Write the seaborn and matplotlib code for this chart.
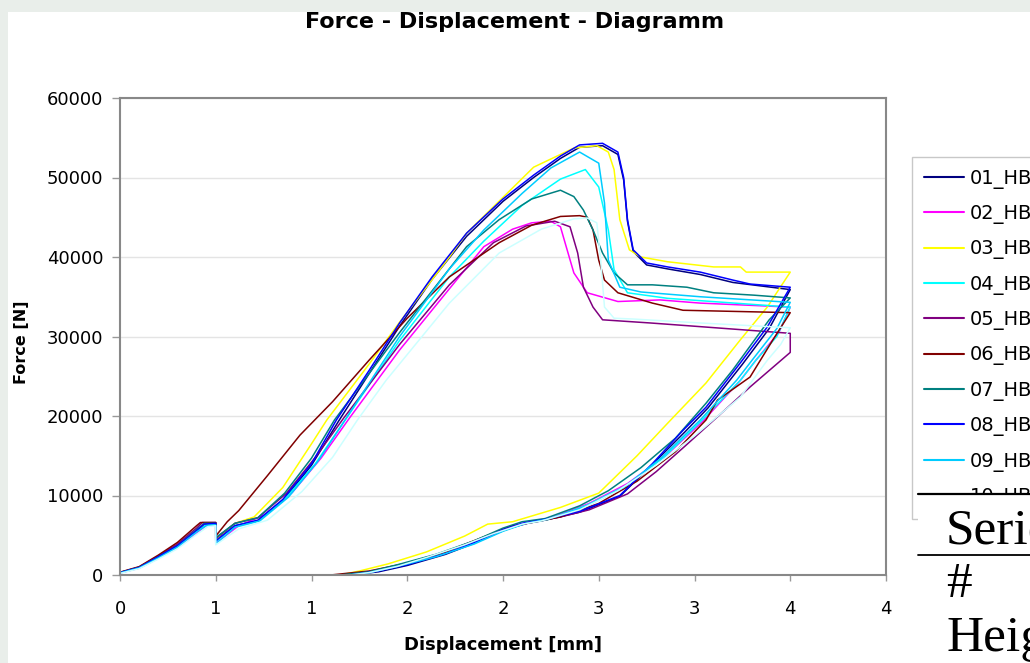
import pandas as pd
import matplotlib
matplotlib.use("Agg")
import matplotlib.pyplot as plt
from matplotlib.lines import Line2D
from matplotlib.patches import Rectangle
import seaborn as sns

sns.set_theme(style="white")
plt.rcParams["font.family"] = ["DejaVu Sans"]
plt.rcParams["text.color"] = "black"

# series names + excel style colours
labels = ["01_HB", "02_HB", "03_HB", "04_HB", "05_HB",
          "06_HB", "07_HB", "08_HB", "09_HB", "10_HB"]
colors = ["#000080", "#FF00FF", "#FFFF00", "#00FFFF", "#800080",
          "#800000", "#008080", "#0000FF", "#00CCFF", "#CCFFFF"]

# displacement [mm] / force [N] (load, then unload)
d01 = [0, 0.1, 0.2, 0.3, 0.4, 0.44, 0.5, 0.5, 0.6, 0.72, 0.85, 1.0, 1.14, 1.3, 1.46, 1.63, 1.81, 2.0, 2.16, 2.3,
       2.4, 2.52, 2.6, 2.63, 2.65, 2.68, 2.75, 2.86, 3.03, 3.2, 3.5,
       3.39, 3.25, 3.07, 2.95, 2.78, 2.61, 2.4, 2.2, 2.1, 2.0, 1.85, 1.7, 1.5, 1.35, 1.2, 0.0]
f01 = [300, 950, 2300, 3700, 5600, 6400, 6500, 4400, 6200, 6800, 9300, 13800, 19300, 25300, 31300, 37200, 42600, 47000, 50000, 52400,
       53800, 54000, 52900, 49700, 44500, 40700, 39000, 38500, 37800, 36800, 35900,
       31000, 26500, 21000, 18000, 13900, 9900, 7900, 6800, 6400, 5600, 4000, 2600, 1200, 400, 0, 0]

d02 = [0, 0.1, 0.2, 0.3, 0.4, 0.45, 0.5, 0.5, 0.62, 0.75, 0.9, 1.05, 1.2, 1.46, 1.72, 1.9, 2.05, 2.15, 2.25, 2.3,
       2.33, 2.37, 2.44, 2.6, 2.82, 3.03, 3.5,
       3.44, 3.32, 3.24, 3.05, 2.85, 2.65, 2.45, 2.25, 2.12, 2.0, 1.85, 1.65, 1.45, 1.3, 1.2, 0.0]
f02 = [250, 850, 2100, 3500, 5300, 6200, 6300, 4000, 6200, 7500, 10400, 14700, 19800, 28300, 36000, 41300, 43500, 44300, 44500, 43800,
       41300, 38000, 35500, 34400, 34600, 34200, 33700,
       30500, 27000, 24500, 19500, 15000, 11500, 9000, 7200, 6600, 5700, 4200, 2500, 1200, 400, 0, 0]

d03 = [0, 0.1, 0.2, 0.3, 0.4, 0.44, 0.5, 0.5, 0.6, 0.7, 0.85, 1.0, 1.08, 1.3, 1.46, 1.72, 1.81, 2.0, 2.16, 2.37,
       2.49, 2.55, 2.58, 2.61, 2.66, 2.72, 2.86, 3.1, 3.24, 3.27, 3.5,
       3.38, 3.24, 3.06, 2.86, 2.7, 2.5, 2.3, 2.05, 1.92, 1.8, 1.6, 1.4, 1.25, 1.15, 0.4]
f03 = [300, 950, 2300, 3700, 5600, 6400, 6500, 4500, 6500, 7300, 11000, 16500, 19500, 26500, 31800, 40000, 43000, 47500, 51300, 53700,
       54000, 53200, 51000, 44700, 40900, 40000, 39400, 38750, 38750, 38100, 38100,
       33700, 29600, 24150, 19100, 15000, 10300, 8500, 6700, 6400, 4900, 2900, 1400, 500, 0, 0]

d04 = [0, 0.1, 0.2, 0.3, 0.4, 0.45, 0.5, 0.5, 0.6, 0.72, 0.87, 1.02, 1.17, 1.46, 1.72, 1.9, 2.1, 2.3, 2.43, 2.5,
       2.55, 2.58, 2.65, 2.86, 3.5,
       3.43, 3.32, 3.24, 3.04, 2.84, 2.64, 2.44, 2.24, 2.12, 2.0, 1.85, 1.65, 1.45, 1.3, 1.2, 0.4]
f04 = [280, 900, 2200, 3600, 5500, 6300, 6400, 4200, 6200, 6800, 9800, 14000, 19300, 29500, 37500, 42000, 46500, 49800, 51000, 48800,
       43400, 38400, 35500, 34800, 33700,
       30000, 27000, 24500, 19500, 14800, 11200, 8800, 7000, 6500, 5600, 4000, 2400, 1100, 300, 0, 0]

d05 = [0, 0.1, 0.2, 0.3, 0.4, 0.43, 0.5, 0.5, 0.6, 0.72, 0.87, 1.02, 1.17, 1.46, 1.72, 1.95, 2.12, 2.27, 2.35, 2.39,
       2.42, 2.47, 2.52, 2.77, 2.94, 3.5, 3.5,
       3.29, 3.12, 2.95, 2.8, 2.65, 2.45, 2.3, 2.16, 2.05, 1.9, 1.7, 1.5, 1.35, 1.22, 0.4]
f05 = [320, 1000, 2400, 3900, 5900, 6600, 6600, 4600, 6500, 7200, 10300, 14800, 19800, 29000, 36500, 41800, 43900, 44500, 43800, 40500,
       36200, 33700, 32100, 31700, 31400, 30400, 28000,
       23650, 19900, 16200, 13000, 10200, 8200, 7300, 6700, 6000, 4700, 2900, 1500, 600, 0, 0]

d06 = [0, 0.1, 0.2, 0.3, 0.4, 0.42, 0.5, 0.5, 0.56, 0.62, 0.77, 0.94, 1.11, 1.3, 1.5, 1.72, 1.98, 2.15, 2.3, 2.4,
       2.44, 2.47, 2.5, 2.53, 2.6, 2.78, 2.94, 3.5,
       3.41, 3.29, 3.12, 3.06, 2.9, 2.7, 2.5, 2.3, 2.15, 2.05, 1.9, 1.7, 1.5, 1.3, 1.1, 0.4]
f06 = [350, 1050, 2500, 4100, 6200, 6600, 6600, 4900, 6700, 8100, 12500, 17600, 21800, 27000, 32300, 37500, 41800, 44000, 45100, 45200,
       45000, 43400, 39600, 37100, 35500, 34200, 33300, 33000,
       29600, 24900, 22000, 19500, 15500, 11800, 9000, 7300, 6600, 6200, 4800, 2900, 1500, 500, 0, 0]

d07 = [0, 0.1, 0.2, 0.3, 0.4, 0.44, 0.5, 0.5, 0.6, 0.72, 0.86, 1.0, 1.12, 1.46, 1.81, 1.98, 2.15, 2.3, 2.37, 2.42,
       2.47, 2.52, 2.58, 2.65, 2.78, 2.96, 3.1, 3.31, 3.5,
       3.39, 3.2, 3.06, 2.9, 2.72, 2.55, 2.4, 2.22, 2.1, 2.0, 1.85, 1.65, 1.45, 1.3, 1.15, 0.36]
f07 = [300, 950, 2300, 3700, 5700, 6500, 6500, 4700, 6500, 7200, 10300, 14700, 19500, 30500, 41300, 44700, 47300, 48400, 47600, 45900,
       43400, 40500, 38000, 36500, 36500, 36200, 35500, 35200, 34850,
       32100, 25800, 21600, 17200, 13500, 10600, 8700, 7100, 6700, 5900, 4300, 2600, 1300, 400, 0, 0]

d08 = [0, 0.1, 0.2, 0.3, 0.4, 0.44, 0.5, 0.5, 0.6, 0.72, 0.85, 1.0, 1.13, 1.3, 1.46, 1.63, 1.81, 2.0, 2.16, 2.3,
       2.4, 2.52, 2.6, 2.63, 2.65, 2.68, 2.75, 2.86, 3.03, 3.2, 3.29, 3.5,
       3.38, 3.24, 3.06, 2.94, 2.78, 2.61, 2.4, 2.2, 2.1, 2.0, 1.85, 1.7, 1.5, 1.35, 1.2, 0.9]
f08 = [300, 950, 2300, 3700, 5600, 6400, 6500, 4300, 6200, 6900, 9500, 14000, 19500, 25700, 31700, 37500, 43000, 47300, 50300, 52700,
       54100, 54300, 53200, 50000, 44700, 40900, 39250, 38750, 38100, 37100, 36600, 36200,
       31200, 26700, 21100, 18200, 14000, 10000, 8000, 6900, 6500, 5700, 4100, 2700, 1300, 500, 0, 0]

d09 = [0, 0.1, 0.2, 0.3, 0.4, 0.45, 0.5, 0.5, 0.6, 0.73, 0.88, 1.03, 1.17, 1.46, 1.72, 1.9, 2.1, 2.25, 2.4, 2.5,
       2.53, 2.55, 2.61, 2.72, 3.03, 3.5,
       3.43, 3.3, 3.22, 3.03, 2.83, 2.63, 2.43, 2.23, 2.12, 2.0, 1.85, 1.65, 1.45, 1.3, 1.2, 0.8]
f09 = [260, 880, 2150, 3500, 5400, 6200, 6300, 3900, 6000, 6800, 9800, 14200, 19300, 30000, 38500, 43400, 48000, 51200, 53200, 51800,
       46800, 39600, 36200, 35600, 35000, 34300,
       31000, 27000, 24500, 19500, 14800, 11000, 8600, 7000, 6500, 5500, 3900, 2300, 1100, 300, 0, 0]

d10 = [0, 0.1, 0.2, 0.3, 0.4, 0.46, 0.5, 0.5, 0.62, 0.77, 0.95, 1.11, 1.24, 1.39, 1.72, 1.98, 2.2, 2.37, 2.44, 2.49,
       2.51, 2.53, 2.58, 2.68, 3.03, 3.5,
       3.45, 3.38, 3.24, 3.0, 2.8, 2.6, 2.4, 2.2, 2.1, 1.95, 1.8, 1.6, 1.45, 1.3, 1.2, 0.97]
f10 = [200, 800, 2000, 3300, 5100, 6100, 6200, 3800, 5800, 6900, 10500, 14800, 19500, 24500, 34200, 40500, 43500, 44800, 44900, 44300,
       39600, 33700, 32300, 32200, 31700, 31100,
       29000, 27000, 22400, 17500, 13800, 10600, 8200, 6800, 6400, 5200, 3800, 2200, 1100, 300, 0, 0]

x_ticks = [0, 0.5, 1.0, 1.5, 2.0, 2.5, 3.0, 3.5, 4.0]
x_tick_labels = ["0", "1", "1", "2", "2", "3", "3", "4", "4"]
y_ticks = [0, 10000, 20000, 30000, 40000, 50000, 60000]
y_tick_labels = ["0", "10000", "20000", "30000", "40000", "50000", "60000"]

# long form table for seaborn
disp = [d01, d02, d03, d04, d05, d06, d07, d08, d09, d10]
force = [f01, f02, f03, f04, f05, f06, f07, f08, f09, f10]
df = pd.concat([pd.DataFrame({"Displacement": d, "Force": f, "Series": name})
                for d, f, name in zip(disp, force, labels)], ignore_index=True)

W, H = 1030, 663
fig = plt.figure(figsize=(W / 100, H / 100), dpi=100, facecolor="#e9eeea")
# white page area (grey strip left and top)
fig.add_artist(Rectangle((8 / W, 0), 1, 1 - 12 / H, transform=fig.transFigure,
                         facecolor="white", edgecolor="none", zorder=-1))

ax = fig.add_axes([120 / W, 88 / H, 766 / W, 477 / H])
ax.set_facecolor("white")

sns.lineplot(data=df, x="Displacement", y="Force", hue="Series", hue_order=labels,
             palette=dict(zip(labels, colors)), estimator=None, sort=False,
             linewidth=1.1, legend=False, ax=ax)

ax.set_xlim(0, 4)
ax.set_ylim(0, 60000)
ax.set_xticks(x_ticks)
ax.set_xticklabels(x_tick_labels)
ax.set_yticks(y_ticks)
ax.set_yticklabels(y_tick_labels)
ax.set_xlabel("")
ax.set_ylabel("")
ax.yaxis.grid(True, color="#e4e4e4", linewidth=1)
ax.xaxis.grid(False)
ax.set_axisbelow(True)
for sp in ax.spines.values():
    sp.set_color("#888888")
    sp.set_linewidth(1.5)
ax.tick_params(axis="x", direction="out", length=4, width=1, color="#999999",
               labelsize=13, pad=14, labelcolor="black", bottom=True)
ax.tick_params(axis="y", direction="out", length=6, width=1, color="#999999",
               labelsize=13, pad=6, labelcolor="black", left=True)

fig.text(515 / W, 1 - 22 / H, "Force - Displacement - Diagramm", ha="center", va="center",
         fontsize=16, fontweight="bold", color="black")
fig.text(22 / W, 1 - 342 / H, "Force [N]", ha="center", va="center", rotation=90,
         fontsize=11.5, fontweight="bold", color="black")
fig.text(503 / W, 1 - 645 / H, "Displacement [mm]", ha="center", va="center",
         fontsize=13, fontweight="bold", color="black")

handles = [Line2D([0], [0], color=c, lw=1.5) for c in colors]
leg = ax.legend(handles, labels, loc="upper left", bbox_to_anchor=(912 / W, 1 - 157 / H),
                bbox_transform=fig.transFigure, borderaxespad=0, fontsize=14,
                labelspacing=0.79, handlelength=2.06, handletextpad=0.31, borderpad=0.6,
                frameon=True, fancybox=False, framealpha=1)
leg.get_frame().set_edgecolor("#c8c8c8")
leg.get_frame().set_linewidth(1)
for t in leg.get_texts():
    t.set_color("black")

# piece of the document table that covers the chart corner
fig.add_artist(Rectangle((918 / W, 0), 1, 1 - 493 / H, transform=fig.transFigure,
                         facecolor="white", edgecolor="none", zorder=5))
fig.add_artist(Line2D([918 / W, 1], [1 - 494 / H] * 2, transform=fig.transFigure,
                      color="black", lw=1.6, zorder=6))
fig.add_artist(Line2D([918 / W, 1], [1 - 555 / H] * 2, transform=fig.transFigure,
                      color="black", lw=1.3, zorder=6))
for txt, yb in [("Series", 543), ("#", 597), ("Height", 651)]:
    fig.text(946 / W, 1 - yb / H, txt, ha="left", va="baseline", fontsize=37,
             family="Liberation Serif", color="black", zorder=7)

fig.savefig("out.png", dpi=100)
